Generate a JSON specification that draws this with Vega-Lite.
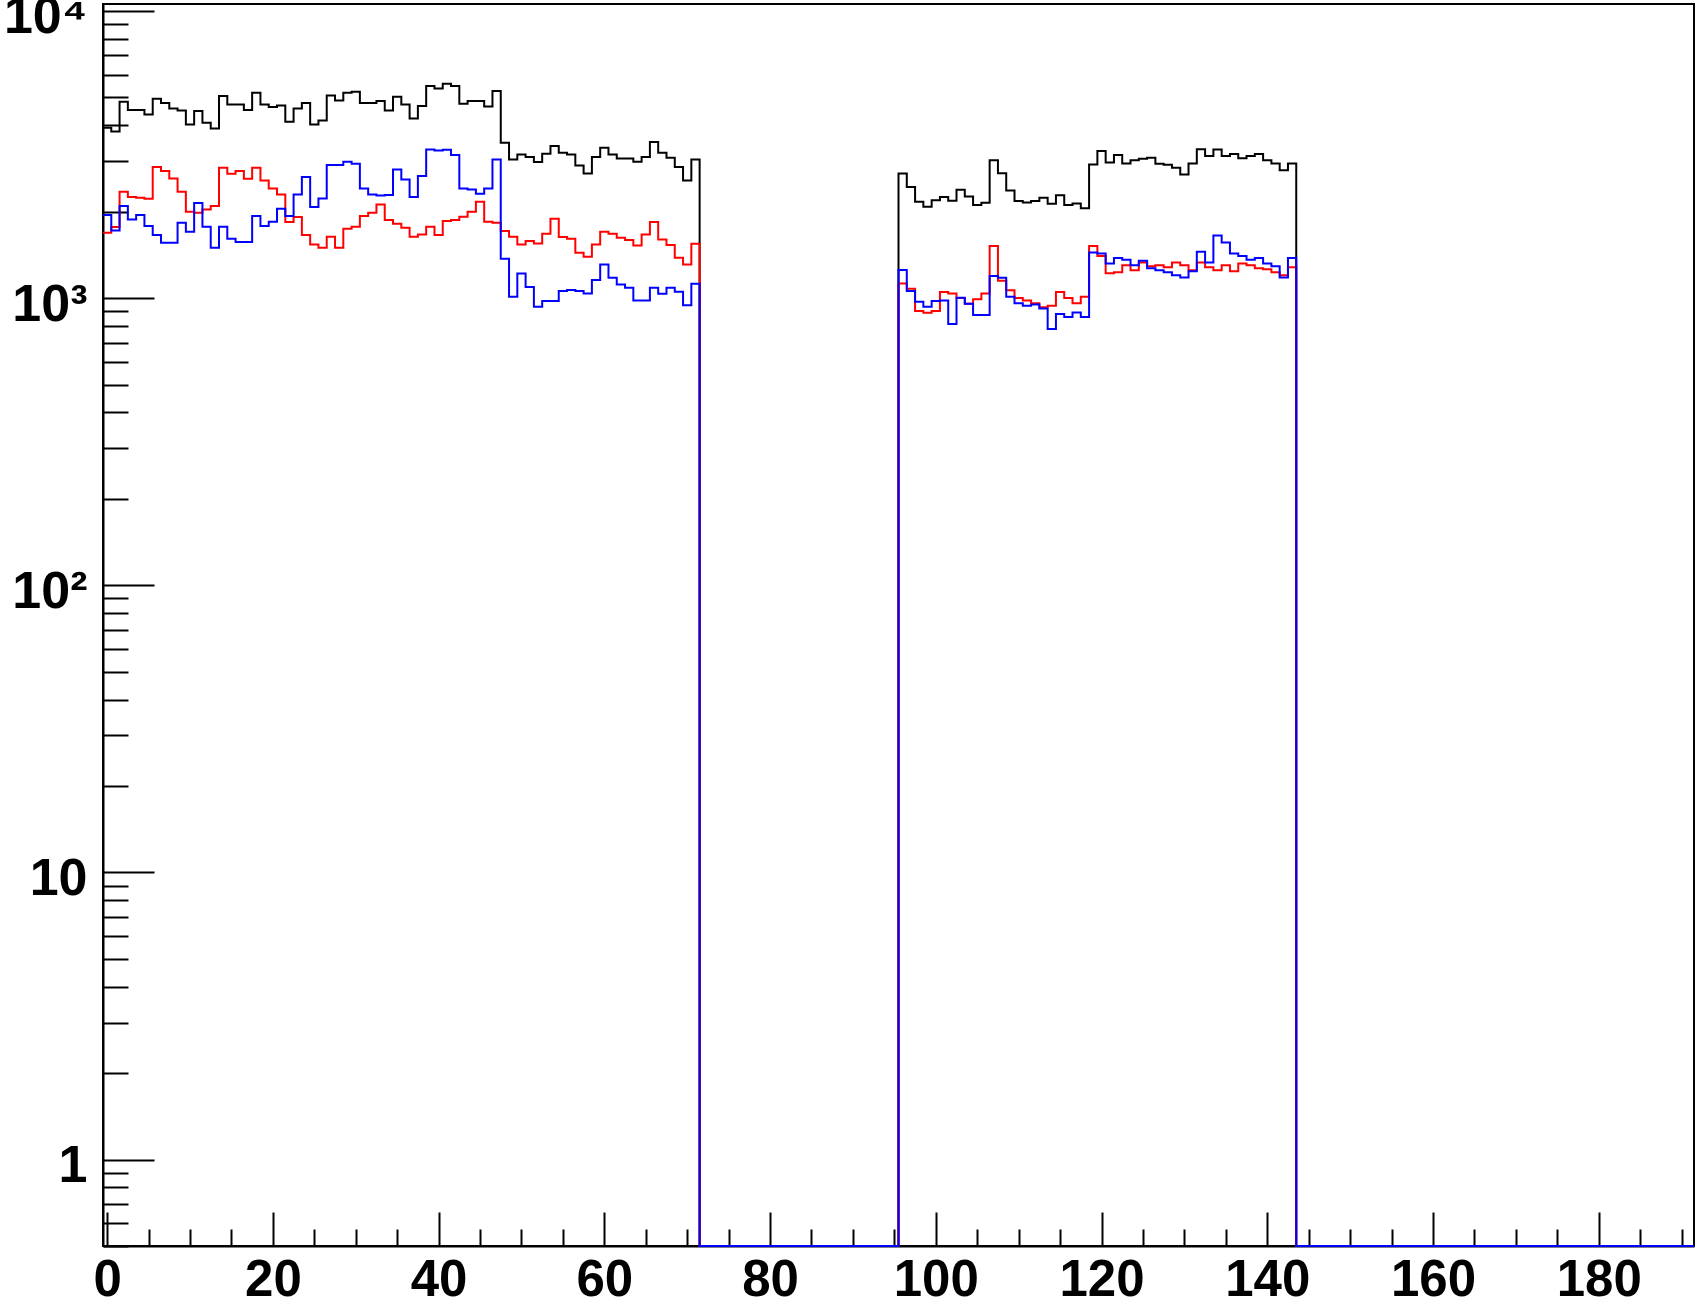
{
  "$schema": "https://vega.github.io/schema/vega-lite/v6.json",
  "width": 1591,
  "height": 1242,
  "autosize": {"type": "none"},
  "padding": {"left": 103, "top": 4, "right": 5, "bottom": 61},
  "background": "white",
  "config": {"view": {"stroke": "black", "strokeWidth": 2}, "font": "Liberation Sans"},
  "data": {"values": [
    {"lo":-0.5,"h1":3917,"h2":1689,"h3":1945},
    {"lo":0.5,"h1":3802,"h2":1767,"h3":1720},
    {"lo":1.5,"h1":4827,"h2":2346,"h3":2091},
    {"lo":2.5,"h1":4514,"h2":2247,"h3":1879},
    {"lo":3.5,"h1":4514,"h2":2235,"h3":1945},
    {"lo":4.5,"h1":4359,"h2":2217,"h3":1781},
    {"lo":5.5,"h1":4943,"h2":2858,"h3":1658},
    {"lo":6.5,"h1":4775,"h2":2768,"h3":1558},
    {"lo":7.5,"h1":4576,"h2":2610,"h3":1558},
    {"lo":8.5,"h1":4502,"h2":2346,"h3":1829},
    {"lo":9.5,"h1":4024,"h2":1998,"h3":1702},
    {"lo":10.5,"h1":4478,"h2":1982,"h3":2142},
    {"lo":11.5,"h1":4078,"h2":2036,"h3":1771},
    {"lo":12.5,"h1":3898,"h2":2091,"h3":1497},
    {"lo":13.5,"h1":5050,"h2":2843,"h3":1771},
    {"lo":14.5,"h1":4724,"h2":2710,"h3":1609},
    {"lo":15.5,"h1":4724,"h2":2768,"h3":1567},
    {"lo":16.5,"h1":4514,"h2":2603,"h3":1567},
    {"lo":17.5,"h1":5188,"h2":2843,"h3":1930},
    {"lo":18.5,"h1":4724,"h2":2569,"h3":1781},
    {"lo":19.5,"h1":4624,"h2":2409,"h3":1844},
    {"lo":20.5,"h1":4686,"h2":2296,"h3":2046},
    {"lo":21.5,"h1":4111,"h2":1839,"h3":1930},
    {"lo":22.5,"h1":4576,"h2":1914,"h3":2296},
    {"lo":23.5,"h1":4775,"h2":1658,"h3":2638},
    {"lo":24.5,"h1":4024,"h2":1538,"h3":2074},
    {"lo":25.5,"h1":4156,"h2":1497,"h3":2223},
    {"lo":26.5,"h1":5078,"h2":1635,"h3":2905},
    {"lo":27.5,"h1":4880,"h2":1497,"h3":2905},
    {"lo":28.5,"h1":5188,"h2":1743,"h3":2983},
    {"lo":29.5,"h1":5230,"h2":1771,"h3":2936},
    {"lo":30.5,"h1":4775,"h2":1930,"h3":2409},
    {"lo":31.5,"h1":4775,"h2":1982,"h3":2296},
    {"lo":32.5,"h1":4853,"h2":2118,"h3":2278},
    {"lo":33.5,"h1":4502,"h2":1869,"h3":2284},
    {"lo":34.5,"h1":5023,"h2":1815,"h3":2805},
    {"lo":35.5,"h1":4724,"h2":1758,"h3":2589},
    {"lo":36.5,"h1":4222,"h2":1635,"h3":2247},
    {"lo":37.5,"h1":4661,"h2":1666,"h3":2659},
    {"lo":38.5,"h1":5473,"h2":1771,"h3":3293},
    {"lo":39.5,"h1":5372,"h2":1658,"h3":3267},
    {"lo":40.5,"h1":5576,"h2":1854,"h3":3285},
    {"lo":41.5,"h1":5473,"h2":1869,"h3":3147},
    {"lo":42.5,"h1":4750,"h2":1920,"h3":2409},
    {"lo":43.5,"h1":4853,"h2":1998,"h3":2390},
    {"lo":44.5,"h1":4853,"h2":2164,"h3":2308},
    {"lo":45.5,"h1":4649,"h2":1844,"h3":2409},
    {"lo":46.5,"h1":5257,"h2":1829,"h3":3040},
    {"lo":47.5,"h1":3475,"h2":1711,"h3":1371},
    {"lo":48.5,"h1":3040,"h2":1635,"h3":1011},
    {"lo":49.5,"h1":3164,"h2":1538,"h3":1219},
    {"lo":50.5,"h1":3097,"h2":1579,"h3":1092},
    {"lo":51.5,"h1":2976,"h2":1550,"h3":933},
    {"lo":52.5,"h1":3181,"h2":1675,"h3":976},
    {"lo":53.5,"h1":3383,"h2":1889,"h3":976},
    {"lo":54.5,"h1":3207,"h2":1631,"h3":1058},
    {"lo":55.5,"h1":3164,"h2":1609,"h3":1066},
    {"lo":56.5,"h1":2897,"h2":1438,"h3":1058},
    {"lo":57.5,"h1":2718,"h2":1393,"h3":1038},
    {"lo":58.5,"h1":3097,"h2":1538,"h3":1155},
    {"lo":59.5,"h1":3337,"h2":1702,"h3":1310},
    {"lo":60.5,"h1":3164,"h2":1675,"h3":1177},
    {"lo":61.5,"h1":3064,"h2":1622,"h3":1116},
    {"lo":62.5,"h1":3064,"h2":1592,"h3":1086},
    {"lo":63.5,"h1":2983,"h2":1525,"h3":981},
    {"lo":64.5,"h1":3097,"h2":1666,"h3":981},
    {"lo":65.5,"h1":3493,"h2":1839,"h3":1086},
    {"lo":66.5,"h1":3207,"h2":1601,"h3":1035},
    {"lo":67.5,"h1":3081,"h2":1529,"h3":1086},
    {"lo":68.5,"h1":2858,"h2":1382,"h3":1052},
    {"lo":69.5,"h1":2569,"h2":1310,"h3":945},
    {"lo":70.5,"h1":3040,"h2":1546,"h3":1122},
    {"lo":71.5,"h1":0,"h2":0,"h3":0},
    {"lo":72.5,"h1":0,"h2":0,"h3":0},
    {"lo":73.5,"h1":0,"h2":0,"h3":0},
    {"lo":74.5,"h1":0,"h2":0,"h3":0},
    {"lo":75.5,"h1":0,"h2":0,"h3":0},
    {"lo":76.5,"h1":0,"h2":0,"h3":0},
    {"lo":77.5,"h1":0,"h2":0,"h3":0},
    {"lo":78.5,"h1":0,"h2":0,"h3":0},
    {"lo":79.5,"h1":0,"h2":0,"h3":0},
    {"lo":80.5,"h1":0,"h2":0,"h3":0},
    {"lo":81.5,"h1":0,"h2":0,"h3":0},
    {"lo":82.5,"h1":0,"h2":0,"h3":0},
    {"lo":83.5,"h1":0,"h2":0,"h3":0},
    {"lo":84.5,"h1":0,"h2":0,"h3":0},
    {"lo":85.5,"h1":0,"h2":0,"h3":0},
    {"lo":86.5,"h1":0,"h2":0,"h3":0},
    {"lo":87.5,"h1":0,"h2":0,"h3":0},
    {"lo":88.5,"h1":0,"h2":0,"h3":0},
    {"lo":89.5,"h1":0,"h2":0,"h3":0},
    {"lo":90.5,"h1":0,"h2":0,"h3":0},
    {"lo":91.5,"h1":0,"h2":0,"h3":0},
    {"lo":92.5,"h1":0,"h2":0,"h3":0},
    {"lo":93.5,"h1":0,"h2":0,"h3":0},
    {"lo":94.5,"h1":0,"h2":0,"h3":0},
    {"lo":95.5,"h1":2718,"h2":1125,"h3":1252},
    {"lo":96.5,"h1":2435,"h2":1077,"h3":1058},
    {"lo":97.5,"h1":2164,"h2":901,"h3":971},
    {"lo":98.5,"h1":2079,"h2":889,"h3":933},
    {"lo":99.5,"h1":2189,"h2":901,"h3":976},
    {"lo":100.5,"h1":2247,"h2":1050,"h3":981},
    {"lo":101.5,"h1":2182,"h2":1038,"h3":812},
    {"lo":102.5,"h1":2383,"h2":1000,"h3":1002},
    {"lo":103.5,"h1":2260,"h2":955,"h3":955},
    {"lo":104.5,"h1":2108,"h2":990,"h3":873},
    {"lo":105.5,"h1":2147,"h2":1038,"h3":873},
    {"lo":106.5,"h1":3017,"h2":1517,"h3":1193},
    {"lo":107.5,"h1":2720,"h2":1150,"h3":1177},
    {"lo":108.5,"h1":2371,"h2":1064,"h3":1010},
    {"lo":109.5,"h1":2176,"h2":1000,"h3":960},
    {"lo":110.5,"h1":2154,"h2":980,"h3":940},
    {"lo":111.5,"h1":2176,"h2":960,"h3":950},
    {"lo":112.5,"h1":2235,"h2":930,"h3":920},
    {"lo":113.5,"h1":2129,"h2":940,"h3":780},
    {"lo":114.5,"h1":2280,"h2":1050,"h3":880},
    {"lo":115.5,"h1":2108,"h2":1000,"h3":860},
    {"lo":116.5,"h1":2136,"h2":960,"h3":890},
    {"lo":117.5,"h1":2053,"h2":1010,"h3":860},
    {"lo":118.5,"h1":2921,"h2":1517,"h3":1440},
    {"lo":119.5,"h1":3250,"h2":1400,"h3":1430},
    {"lo":120.5,"h1":2968,"h2":1220,"h3":1320},
    {"lo":121.5,"h1":3148,"h2":1230,"h3":1380},
    {"lo":122.5,"h1":2944,"h2":1300,"h3":1360},
    {"lo":123.5,"h1":3017,"h2":1250,"h3":1300},
    {"lo":124.5,"h1":3055,"h2":1330,"h3":1350},
    {"lo":125.5,"h1":3080,"h2":1290,"h3":1270},
    {"lo":126.5,"h1":2935,"h2":1300,"h3":1250},
    {"lo":127.5,"h1":2911,"h2":1280,"h3":1230},
    {"lo":128.5,"h1":2842,"h2":1330,"h3":1200},
    {"lo":129.5,"h1":2696,"h2":1300,"h3":1180},
    {"lo":130.5,"h1":2944,"h2":1250,"h3":1240},
    {"lo":131.5,"h1":3295,"h2":1330,"h3":1450},
    {"lo":132.5,"h1":3122,"h2":1280,"h3":1330},
    {"lo":133.5,"h1":3293,"h2":1250,"h3":1650},
    {"lo":134.5,"h1":3122,"h2":1300,"h3":1560},
    {"lo":135.5,"h1":3177,"h2":1240,"h3":1430},
    {"lo":136.5,"h1":3071,"h2":1320,"h3":1400},
    {"lo":137.5,"h1":3122,"h2":1300,"h3":1360},
    {"lo":138.5,"h1":3177,"h2":1270,"h3":1380},
    {"lo":139.5,"h1":3017,"h2":1260,"h3":1320},
    {"lo":140.5,"h1":2940,"h2":1230,"h3":1290},
    {"lo":141.5,"h1":2786,"h2":1200,"h3":1180},
    {"lo":142.5,"h1":2940,"h2":1280,"h3":1380},
    {"lo":143.5,"h1":0,"h2":0,"h3":0},
    {"lo":144.5,"h1":0,"h2":0,"h3":0},
    {"lo":145.5,"h1":0,"h2":0,"h3":0},
    {"lo":146.5,"h1":0,"h2":0,"h3":0},
    {"lo":147.5,"h1":0,"h2":0,"h3":0},
    {"lo":148.5,"h1":0,"h2":0,"h3":0},
    {"lo":149.5,"h1":0,"h2":0,"h3":0},
    {"lo":150.5,"h1":0,"h2":0,"h3":0},
    {"lo":151.5,"h1":0,"h2":0,"h3":0},
    {"lo":152.5,"h1":0,"h2":0,"h3":0},
    {"lo":153.5,"h1":0,"h2":0,"h3":0},
    {"lo":154.5,"h1":0,"h2":0,"h3":0},
    {"lo":155.5,"h1":0,"h2":0,"h3":0},
    {"lo":156.5,"h1":0,"h2":0,"h3":0},
    {"lo":157.5,"h1":0,"h2":0,"h3":0},
    {"lo":158.5,"h1":0,"h2":0,"h3":0},
    {"lo":159.5,"h1":0,"h2":0,"h3":0},
    {"lo":160.5,"h1":0,"h2":0,"h3":0},
    {"lo":161.5,"h1":0,"h2":0,"h3":0},
    {"lo":162.5,"h1":0,"h2":0,"h3":0},
    {"lo":163.5,"h1":0,"h2":0,"h3":0},
    {"lo":164.5,"h1":0,"h2":0,"h3":0},
    {"lo":165.5,"h1":0,"h2":0,"h3":0},
    {"lo":166.5,"h1":0,"h2":0,"h3":0},
    {"lo":167.5,"h1":0,"h2":0,"h3":0},
    {"lo":168.5,"h1":0,"h2":0,"h3":0},
    {"lo":169.5,"h1":0,"h2":0,"h3":0},
    {"lo":170.5,"h1":0,"h2":0,"h3":0},
    {"lo":171.5,"h1":0,"h2":0,"h3":0},
    {"lo":172.5,"h1":0,"h2":0,"h3":0},
    {"lo":173.5,"h1":0,"h2":0,"h3":0},
    {"lo":174.5,"h1":0,"h2":0,"h3":0},
    {"lo":175.5,"h1":0,"h2":0,"h3":0},
    {"lo":176.5,"h1":0,"h2":0,"h3":0},
    {"lo":177.5,"h1":0,"h2":0,"h3":0},
    {"lo":178.5,"h1":0,"h2":0,"h3":0},
    {"lo":179.5,"h1":0,"h2":0,"h3":0},
    {"lo":180.5,"h1":0,"h2":0,"h3":0},
    {"lo":181.5,"h1":0,"h2":0,"h3":0},
    {"lo":182.5,"h1":0,"h2":0,"h3":0},
    {"lo":183.5,"h1":0,"h2":0,"h3":0},
    {"lo":184.5,"h1":0,"h2":0,"h3":0},
    {"lo":185.5,"h1":0,"h2":0,"h3":0},
    {"lo":186.5,"h1":0,"h2":0,"h3":0},
    {"lo":187.5,"h1":0,"h2":0,"h3":0},
    {"lo":188.5,"h1":0,"h2":0,"h3":0},
    {"lo":189.5,"h1":0,"h2":0,"h3":0},
    {"lo":190.5,"h1":0,"h2":0,"h3":0},
    {"lo":191.5,"h1":0,"h2":0,"h3":0}
  ]},
  "transform": [{"fold": ["h1", "h2", "h3"], "as": ["series", "count"]}],
  "layer": [
    {
      "mark": {"type": "line", "opacity": 0},
      "encoding": {
        "x": {
          "field": "lo", "type": "quantitative",
          "scale": {"domain": [-0.5, 191.5], "nice": false, "zero": false},
          "axis": {
            "orient": "bottom", "title": null, "grid": false, "labels": false, "domain": false,
            "values": [5,10,15,25,30,35,45,50,55,65,70,75,85,90,95,105,110,115,125,130,135,145,150,155,165,170,175,185,190],
            "tickColor": "black", "tickWidth": 2, "tickSize": -17
          }
        },
        "y": {
          "field": "count", "type": "quantitative",
          "scale": {"type": "log", "domain": [0.5, 10570], "nice": false, "clamp": true},
          "axis": {
            "orient": "left", "title": null, "grid": false, "labels": false, "domain": false,
            "values": [0.5,0.6,0.7,0.8,0.9,2,3,4,5,6,7,8,9,20,30,40,50,60,70,80,90,200,300,400,500,600,700,800,900,2000,3000,4000,5000,6000,7000,8000,9000],
            "tickColor": "black", "tickWidth": 2, "tickSize": -25
          }
        },
        "detail": {"field": "series", "type": "nominal"}
      }
    },
    {
      "mark": {"type": "line", "interpolate": "step-after", "strokeWidth": 2, "clip": false},
      "encoding": {
        "x": {
          "field": "lo", "type": "quantitative",
          "scale": {"domain": [-0.5, 191.5], "nice": false, "zero": false},
          "axis": {
            "orient": "bottom", "title": null, "grid": false,
            "values": [0,20,40,60,80,100,120,140,160,180],
            "format": "d",
            "domainColor": "black", "domainWidth": 2,
            "tickColor": "black", "tickWidth": 2, "tickSize": -34,
            "labelFont": "Liberation Sans", "labelFontWeight": "bold", "labelFontSize": 51, "labelColor": "black",
            "labelPadding": 43, "labelFlush": false, "labelOverlap": false, "labelBound": false
          }
        },
        "y": {
          "field": "count", "type": "quantitative",
          "scale": {"type": "log", "domain": [0.5, 10570], "nice": false, "clamp": true},
          "axis": {
            "orient": "left", "title": null, "grid": false,
            "values": [1,10,100,1000,10000],
            "labelExpr": "datum.value == 1 ? '1' : datum.value == 10 ? '10' : datum.value == 100 ? '10²' : datum.value == 1000 ? '10³' : '10⁴'",
            "domainColor": "black", "domainWidth": 2,
            "tickColor": "black", "tickWidth": 2, "tickSize": -51,
            "labelFont": "Liberation Sans", "labelFontWeight": "bold", "labelFontSize": 52, "labelColor": "black",
            "labelPadding": 67, "labelOffset": 6, "labelFlush": false, "labelOverlap": false, "labelBound": false
          }
        },
        "color": {
          "field": "series", "type": "nominal",
          "scale": {"domain": ["h1", "h2", "h3"], "range": ["#000000", "#ff0000", "#0000ff"]},
          "legend": null
        }
      }
    }
  ],
  "resolve": {"axis": {"x": "independent", "y": "independent"}}
}
